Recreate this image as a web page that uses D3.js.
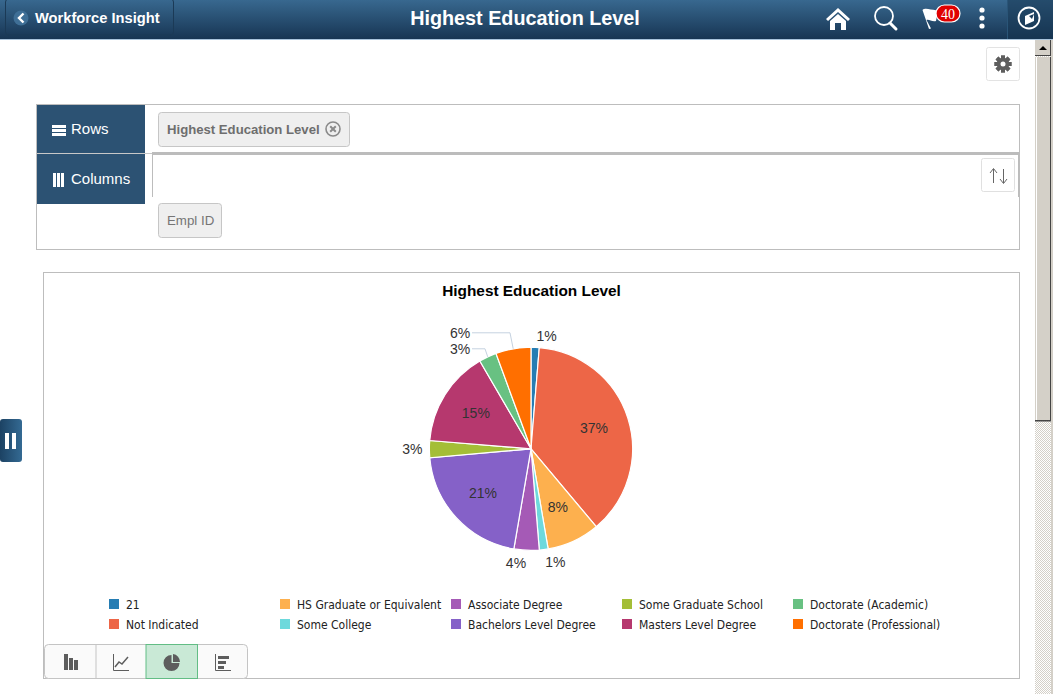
<![CDATA[<!DOCTYPE html>
<html><head><meta charset="utf-8">
<script src="https://d3js.org/d3.v7.min.js"></script>
<style>html,body{margin:0;padding:0;background:#fff;overflow:hidden}svg{display:block}text{font-family:"Liberation Sans",Arial,sans-serif}</style>
<script>
const categories=["21","Not Indicated","HS Graduate or Equivalent","Some College","Associate Degree","Bachelors Level Degree","Some Graduate School","Masters Level Degree","Doctorate (Academic)","Doctorate (Professional)"];
const values=[1.3,37.6,8.4,1.4,4.0,20.9,2.7,15.3,2.8,5.6];
const percentLabels=["1%","37%","8%","1%","4%","21%","3%","15%","3%","6%"];
const colors=["#267db3","#ed6647","#fdb04e","#6dd9dc","#a55ab6","#8561c8","#a4be37","#b6386e","#68c182","#ff6f00"];
const legendRows=[["21","Not Indicated"],["HS Graduate or Equivalent","Some College"],["Associate Degree","Bachelors Level Degree"],["Some Graduate School","Masters Level Degree"],["Doctorate (Academic)","Doctorate (Professional)"]];

document.addEventListener("DOMContentLoaded",()=>{
const W=1053,H=694;
const svg=d3.select("#chart").append("svg").attr("width",W).attr("height",H);
const defs=svg.append("defs");
const hg=defs.append("linearGradient").attr("id","hdr").attr("x1",0).attr("x2",0).attr("y1",0).attr("y2",1);
hg.append("stop").attr("offset",0).attr("stop-color","#38688f");
hg.append("stop").attr("offset",1).attr("stop-color","#173553");
const hs=defs.append("linearGradient").attr("id","tab");
hs.append("stop").attr("offset",0).attr("stop-color","#1c4263");
hs.append("stop").attr("offset",1).attr("stop-color","#346a93");
const pat=defs.append("pattern").attr("id","dith").attr("width",2).attr("height",2).attr("patternUnits","userSpaceOnUse");
pat.append("rect").attr("width",2).attr("height",2).attr("fill","#fff");
pat.append("rect").attr("width",1).attr("height",1).attr("fill","#d4d0c8");
pat.append("rect").attr("x",1).attr("y",1).attr("width",1).attr("height",1).attr("fill","#d4d0c8");

function rect(x,y,w,h,o={}){const r=svg.append("rect").attr("x",x).attr("y",y).attr("width",w).attr("height",h).attr("fill",o.fill||"none");
 if(o.stroke)r.attr("stroke",o.stroke).attr("stroke-width",o.sw||1);if(o.r)r.attr("rx",o.r);return r;}
function text(x,y,s,o={}){const t=svg.append("text").attr("x",x).attr("y",y).text(s).attr("fill",o.fill||"#333").attr("font-size",o.size||13)
 .attr("font-weight",o.weight||"normal").attr("text-anchor",o.anchor||"start");if(o.family)t.style("font-family",o.family);return t;}

// header
rect(0,0,W,39,{fill:"url(#hdr)"});
rect(0,39,W,1,{fill:"#a9c4dc"});
rect(5.5,-1,168,36,{stroke:"#1b3a56",r:3});
svg.append("circle").attr("cx",21).attr("cy",18).attr("r",7.5).attr("fill","#3f6f96");
svg.append("path").attr("d","M23.5 13.5L19 18L23.5 22.5").attr("fill","none").attr("stroke","#fff").attr("stroke-width",2.4);
text(35,23,"Workforce Insight",{fill:"#fff",size:14.7,weight:"bold"});
text(525,25,"Highest Education Level",{fill:"#fff",size:19.8,weight:"bold",anchor:"middle"});
// home
svg.append("path").attr("d","M826 19L838 8L850 19L848 21L838 12L828 21ZM830 21L838 14L846 21V30H841V23H835V30H830Z").attr("fill","#fff");
// search
svg.append("circle").attr("cx",884).attr("cy",16).attr("r",9).attr("fill","none").attr("stroke","#fff").attr("stroke-width",1.8);
svg.append("line").attr("x1",890).attr("y1",23).attr("x2",896).attr("y2",29).attr("stroke","#fff").attr("stroke-width",3).attr("stroke-linecap","round");
// flag
svg.append("path").attr("d","M922.5 10C926 7 932 11 938 10L936 21C932 22 929 19 926.5 20L931 28.5L929 29Z").attr("fill","#fff");
rect(936,5,24,17,{fill:"#e00000",stroke:"#fff",sw:1.2,r:8.5});
text(948,19,"40",{fill:"#fff",size:14,anchor:"middle",family:"'Liberation Serif',serif"});
// dots
[10,18,26].forEach(y=>svg.append("circle").attr("cx",982).attr("cy",y).attr("r",2.6).attr("fill","#fff"));
rect(1007,0,1,39,{fill:"#2a5578"});
rect(1008,0,45,39,{fill:"#163450"}).attr("opacity",.55);
svg.append("circle").attr("cx",1029).attr("cy",18).attr("r",10.5).attr("fill","none").attr("stroke","#fff").attr("stroke-width",1.8);
svg.append("path").attr("d","M1025 16L1034 12L1034 21L1025 25Z").attr("fill","#fff");
svg.append("path").attr("d","M1029 16L1034 14L1032 19Z").attr("fill","#1c3e5c");

// scrollbar
rect(1035,40,16,654,{fill:"url(#dith)"});
rect(1051,40,2,654,{fill:"#d4d0c8"});
rect(1035,40,16,15,{fill:"#d4d0c8"});
rect(1035,55,16,1,{fill:"#444"});
rect(1050,40,1,16,{fill:"#444"});
svg.append("path").attr("d","M1039 50L1043 46L1047 50Z").attr("fill","#000");
rect(1035,57,16,364,{fill:"#d4d0c8"});
rect(1036,57,1,363,{fill:"#fff"});
rect(1035,420,16,1.5,{fill:"#444"});
rect(1050,57,1,364,{fill:"#444"});

// gear button
rect(986.5,47.5,33,33,{fill:"#fff",stroke:"#e3e3e3",r:2});
const gearC=[1003,64];
d3.range(8).forEach(i=>svg.append("rect").attr("x",gearC[0]-2).attr("y",gearC[1]-8.5).attr("width",4).attr("height",17).attr("fill","#5e5e5e").attr("transform",`rotate(${i*45} ${gearC[0]} ${gearC[1]})`));
svg.append("circle").attr("cx",gearC[0]).attr("cy",gearC[1]).attr("r",6.2).attr("fill","#5e5e5e");
svg.append("circle").attr("cx",gearC[0]).attr("cy",gearC[1]).attr("r",2.5).attr("fill","#fff");

// rows / columns panel
rect(36.5,104.5,983,145,{stroke:"#bdbdbd",fill:"#fff"});
rect(37,105,108,48,{fill:"#2c5273"});
rect(37,154,108,50,{fill:"#2c5273"});
[125,129,133].forEach(y=>rect(52,y,14,3,{fill:"#fff"}));
[53,57,61].forEach(x=>rect(x,173,3,14,{fill:"#fff"}));
text(71,134,"Rows",{fill:"#fff",size:15});
text(71,184,"Columns",{fill:"#fff",size:15});
rect(152,152,868,3,{fill:"#bcbcbc"});
rect(37,153,115,1,{fill:"#c8c8c8"});
rect(152,154,1,43,{fill:"#bcbcbc"});
rect(1018,154,1,43,{fill:"#bcbcbc"});
rect(158.5,112.5,191,34,{fill:"#efefef",stroke:"#c6c6c6",r:3});
text(167,134,"Highest Education Level",{fill:"#6e6e6e",size:13.15,weight:"bold"});
svg.append("circle").attr("cx",333).attr("cy",129).attr("r",7).attr("fill","none").attr("stroke","#8a8a8a").attr("stroke-width",1.6);
svg.append("path").attr("d","M330.2 126.2L335.8 131.8M335.8 126.2L330.2 131.8").attr("stroke","#8a8a8a").attr("stroke-width",2);
rect(981.5,158.5,33,33,{fill:"#fff",stroke:"#e0e0e0",r:2});
svg.append("path").attr("d","M993.5 183V169M990 173L993.5 168.5L997 173M1003.5 169V183M1000 179L1003.5 183.5L1007 179").attr("fill","none").attr("stroke","#666").attr("stroke-width",1);
rect(158.5,203.5,63,34,{fill:"#efefef",stroke:"#c6c6c6",r:3});
text(167,225,"Empl ID",{fill:"#757575",size:13.3});

// left tab
rect(0,419,22,43,{fill:"url(#tab)",r:3});
rect(5,433,4,16,{fill:"#fff"});
rect(12,433,4,16,{fill:"#fff"});

// chart frame
rect(43.5,272.5,976,406,{stroke:"#bdbdbd",fill:"#fff"});
text(531.5,296,"Highest Education Level",{fill:"#000",size:15.4,weight:"bold",anchor:"middle"});

// pie
const cx=531,cy=448.8,R=101.6;
const pie=d3.pie().sort(null).value(d=>d);
const arcs=pie(values);
const arc=d3.arc().innerRadius(0).outerRadius(R);
const g=svg.append("g").attr("transform",`translate(${cx},${cy})`);
g.selectAll("path.s").data(arcs).join("path").attr("class","s").attr("d",arc)
 .attr("fill",(d,i)=>colors[i]).attr("stroke","#fff").attr("stroke-width",1.2);
// labels: inside for large slices, outside for small ones
const inner=d3.arc().innerRadius(R*.63).outerRadius(R*.63);
const outer=d3.arc().innerRadius(R+13).outerRadius(R+13);
const labelOffset={0:[11,2],1:[2,-1],3:[10,0],4:[-10,0],5:[-1,1],6:[-4,0],7:[-1,-2]};
g.selectAll("text.l").data(arcs).join("text").attr("class","l")
 .attr("font-size",14).attr("fill","#333").attr("text-anchor","middle").attr("dy","0.35em")
 .text((d,i)=>percentLabels[i])
 .attr("transform",(d,i)=>{
   if(i===8||i===9){return `translate(-71,${i===9?-116:-100})`;}
   const big=values[i]>=8;let p=(big?inner:outer).centroid(d);const o=labelOffset[i]||[0,0];
   return `translate(${p[0]+o[0]},${p[1]+o[1]})`;});
// leader lines for the two crowded slices
const leader=d3.line();
const lead=(i,startX,startY,cornerX)=>{const m=d3.arc().innerRadius(R).outerRadius(R).centroid(arcs[i]);
  g.append("path").attr("d",leader([[startX,startY],[cornerX,startY],[m[0],m[1]]])).attr("fill","none").attr("stroke","#c5d2e0").attr("stroke-width",1);};
lead(8,-59,-100,-46);
lead(9,-59,-116,-21);

// legend
const legX=d3.scalePoint().domain(d3.range(5)).range([109,793]);
const legY=d3.scalePoint().domain([0,1]).range([604,624]);
legendRows.forEach((col,c)=>col.forEach((name,r)=>{
  const i=categories.indexOf(name);
  rect(legX(c),legY(r)-5,10,10,{fill:colors[i]});
  text(legX(c)+17,legY(r)+4.5,name,{fill:"#222",size:12,family:"'DejaVu Sans Condensed','DejaVu Sans',sans-serif"}).style("font-stretch","condensed");
}));

// chart type buttons
rect(44.5,644.5,203,34,{fill:"#fafafa",stroke:"#c4c4c4",r:4});
rect(146,644.5,51.5,34,{fill:"#c9e9d6",stroke:"#62bd85"});
rect(95.5,645,1,33,{fill:"#c4c4c4"});
const ic="#5d5d5d";
rect(64,654,4,16,{fill:ic});rect(69,658,4,12,{fill:ic});rect(74,660,4,10,{fill:ic});
svg.append("path").attr("d","M113.5 654V670.5H129").attr("fill","none").attr("stroke",ic);
svg.append("path").attr("d","M115 667L119 662L122 664L128 657").attr("fill","none").attr("stroke",ic).attr("stroke-width",1.5);
svg.append("path").attr("d","M171.5 655V663H179.5A8 8 0 1 1 171.5 655Z").attr("fill",ic);
svg.append("path").attr("d","M173 654A8 8 0 0 1 180 662H173Z").attr("fill",ic);
svg.append("path").attr("d","M215.5 654V670.5H231").attr("fill","none").attr("stroke",ic);
rect(218,656,11,3,{fill:ic});rect(218,661,8,3,{fill:ic});rect(218,666,6,3,{fill:ic});
});
</script>
</head><body><div id="chart"></div></body></html>]]>
